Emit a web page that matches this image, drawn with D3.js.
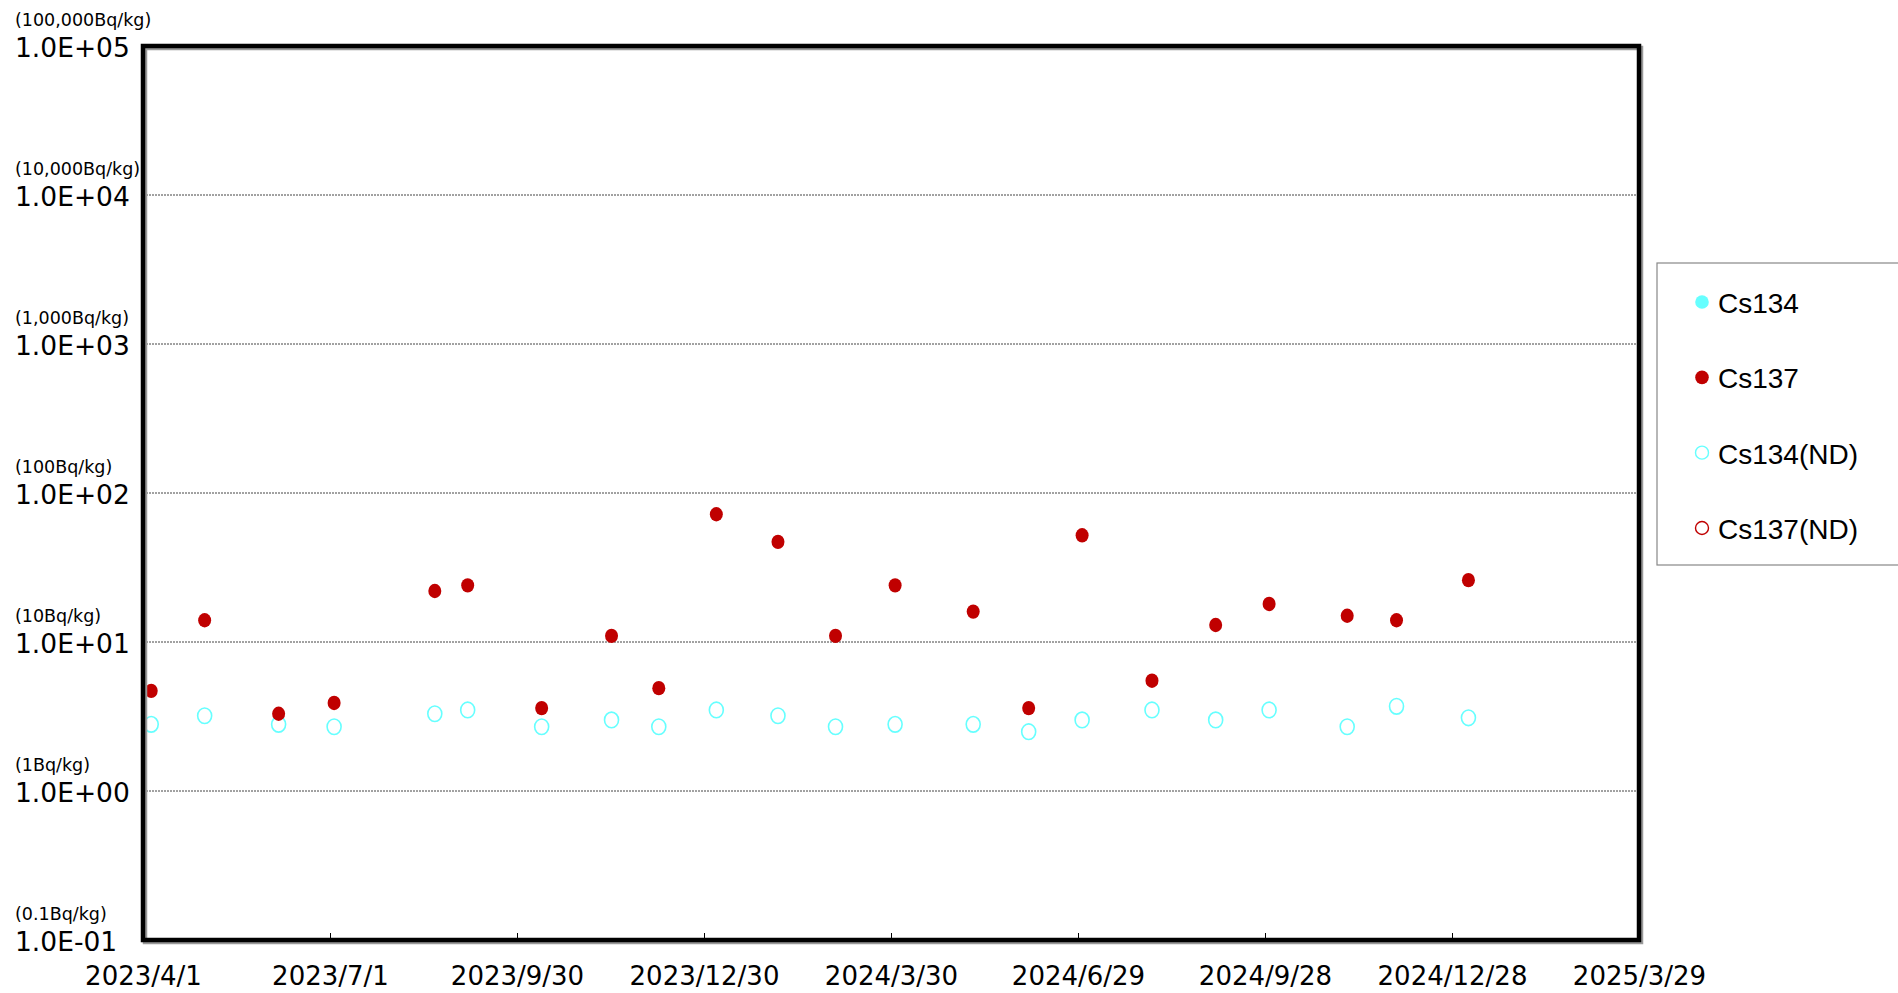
<!DOCTYPE html>
<html>
<head>
<meta charset="utf-8">
<script src="https://cdn.jsdelivr.net/npm/d3@7"></script>
<style>
  body { margin: 0; background: #fff; }
  svg { display: block; }
</style>
</head>
<body>
<svg id="chart"></svg>
<script>
// sampling dates and values
const dates = [
  "2023-04-05", "2023-05-01", "2023-06-06", "2023-07-03", "2023-08-21",
  "2023-09-06", "2023-10-12", "2023-11-15", "2023-12-08", "2024-01-05",
  "2024-02-04", "2024-03-03", "2024-04-01", "2024-05-09", "2024-06-05",
  "2024-07-01", "2024-08-04", "2024-09-04", "2024-09-30", "2024-11-07",
  "2024-12-01", "2025-01-05"
];
const cs137 = [4.7, 14, 3.3, 3.9, 22, 24, 3.6, 11, 4.9, 72, 47, 11, 24, 16, 3.6, 52, 5.5, 13, 18, 15, 14, 26];
const cs134ND = [2.8, 3.2, 2.8, 2.7, 3.3, 3.5, 2.7, 3.0, 2.7, 3.5, 3.2, 2.7, 2.8, 2.8, 2.5, 3.0, 3.5, 3.0, 3.5, 2.7, 3.7, 3.1];

const xTickDates = [
  "2023/4/1", "2023/7/1", "2023/9/30", "2023/12/30", "2024/3/30",
  "2024/6/29", "2024/9/28", "2024/12/28", "2025/3/29"
];
const yTicks = [1e-1, 1e0, 1e1, 1e2, 1e3, 1e4, 1e5];
const yTickLabels = ["1.0E-01", "1.0E+00", "1.0E+01", "1.0E+02", "1.0E+03", "1.0E+04", "1.0E+05"];
const yUnitLabels = ["(0.1Bq/kg)", "(1Bq/kg)", "(10Bq/kg)", "(100Bq/kg)", "(1,000Bq/kg)", "(10,000Bq/kg)", "(100,000Bq/kg)"];

const legendNames = ["Cs134", "Cs137", "Cs134(ND)", "Cs137(ND)"];
const cyan = "#66FFFF", red = "#C00000";

const W = 1898, H = 993;
const margin = { top: 46, right: 259, bottom: 53, left: 143 };
const width = W - margin.left - margin.right,
  height = H - margin.top - margin.bottom;

const svg = d3.select("#chart").attr("width", W).attr("height", H);
const g = svg.append("g").attr("transform", `translate(${margin.left},${margin.top})`);

const parseTick = d3.timeParse("%Y/%m/%d");
const parseDate = d3.timeParse("%Y-%m-%d");
const tickDates = xTickDates.map(parseTick);

const x = d3.scaleTime()
  .domain([tickDates[0], tickDates[tickDates.length - 1]])
  .range([0, width]);

const y = d3.scaleLog().domain([1e-1, 1e5]).range([height, 0]);

// grid lines
g.append("g")
  .selectAll("line")
  .data(yTicks.slice(1, -1))
  .join("line")
  .attr("x1", 0)
  .attr("x2", width)
  .attr("y1", d => y(d))
  .attr("y2", d => y(d))
  .attr("stroke", "#444")
  .attr("stroke-width", 1)
  .attr("stroke-dasharray", "2,1");

// x ticks inside the frame, labels below
const xAxis = g.append("g")
  .attr("transform", `translate(0,${height})`)
  .call(d3.axisBottom(x).tickValues(tickDates).tickSizeInner(-7).tickSizeOuter(0).tickFormat((d, i) => xTickDates[i]));
xAxis.select(".domain").remove();
xAxis.selectAll(".tick line").attr("stroke", "#000");
xAxis.selectAll(".tick text")
  .attr("y", 45)
  .attr("dy", 0)
  .attr("font-family", "'DejaVu Sans', sans-serif")
  .attr("font-size", 26)
  .attr("fill", "#000");

// y labels
const yLab = svg.append("g");
yLab.selectAll("text.big")
  .data(yTicks)
  .join("text")
  .attr("class", "big")
  .attr("x", 15)
  .attr("y", d => margin.top + y(d) + 11)
  .attr("font-family", "'DejaVu Sans', sans-serif")
  .attr("font-size", 26.5)
  .text((d, i) => yTickLabels[i]);
yLab.selectAll("text.unit")
  .data(yTicks)
  .join("text")
  .attr("class", "unit")
  .attr("x", 15)
  .attr("y", d => margin.top + y(d) - 20)
  .attr("font-family", "'DejaVu Sans', sans-serif")
  .attr("font-size", 17.5)
  .text((d, i) => yUnitLabels[i]);

// points
const rows = dates.map((d, i) => ({ date: parseDate(d), cs137: cs137[i], cs134ND: cs134ND[i] }));

g.append("g")
  .selectAll("ellipse")
  .data(rows)
  .join("ellipse")
  .attr("cx", d => x(d.date))
  .attr("cy", d => y(d.cs134ND))
  .attr("rx", 7)
  .attr("ry", 7.8)
  .attr("fill", "none")
  .attr("stroke", cyan)
  .attr("stroke-width", 1.6);

g.append("g")
  .selectAll("ellipse")
  .data(rows)
  .join("ellipse")
  .attr("cx", d => x(d.date))
  .attr("cy", d => y(d.cs137))
  .attr("rx", 6.5)
  .attr("ry", 7.2)
  .attr("fill", red);

// frame with a faint shadow
g.append("rect")
  .attr("x", 2).attr("y", 2)
  .attr("width", width).attr("height", height)
  .attr("fill", "none").attr("stroke", "#999").attr("stroke-width", 4.5);
g.append("rect")
  .attr("width", width).attr("height", height)
  .attr("fill", "none").attr("stroke", "#000").attr("stroke-width", 4.5);

// legend
const lg = svg.append("g").attr("transform", "translate(1657,263)");
lg.append("rect")
  .attr("width", 260).attr("height", 302)
  .attr("fill", "#fff").attr("stroke", "#888").attr("stroke-width", 1.2);

const legendY = d3.scalePoint().domain(legendNames).range([39, 265]);
const item = lg.selectAll("g.item")
  .data(legendNames)
  .join("g")
  .attr("class", "item")
  .attr("transform", d => `translate(45,${legendY(d)})`);
item.append("circle")
  .attr("r", d => d.includes("ND") ? 6.5 : 6.8)
  .attr("fill", d => d.includes("ND") ? "none" : (d.startsWith("Cs134") ? cyan : red))
  .attr("stroke", d => d.includes("ND") ? (d.startsWith("Cs134") ? cyan : red) : "none")
  .attr("stroke-width", 1.4);
item.append("text")
  .attr("x", 16)
  .attr("y", 11)
  .attr("font-family", "'Liberation Sans', Arial, sans-serif")
  .attr("font-size", 28)
  .text(d => d);
</script>
</body>
</html>
